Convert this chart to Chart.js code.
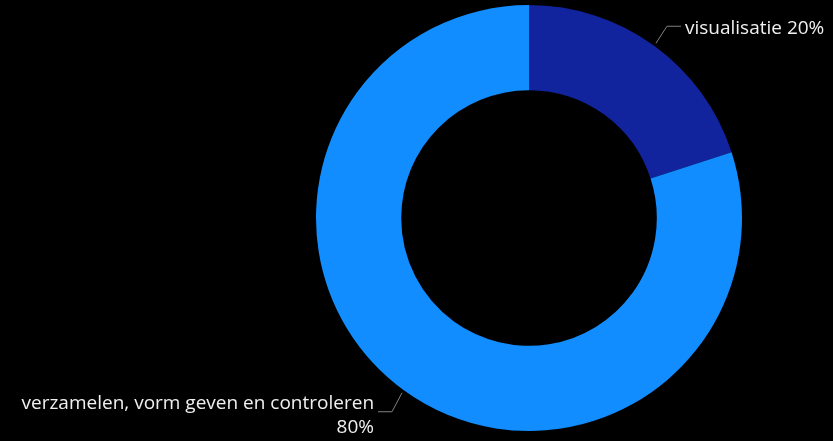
<!DOCTYPE html>
<html>
<head>
<meta charset="utf-8">
<script src="https://cdn.jsdelivr.net/npm/chart.js@4"></script>
<style>
  html, body { margin: 0; padding: 0; background: #000; }
  #wrap { width: 833px; height: 441px; }
</style>
</head>
<body>
<div id="wrap"><canvas id="chart" width="833" height="441"></canvas></div>
<script>
// data
const categories = ['visualisatie', 'verzamelen, vorm geven en controleren'];
const shares = [20, 80];
const colors = ['#12239E', '#118DFF'];

// labels with leader lines, placed from each arc's middle angle
const leaderLabels = {
  id: 'leaderLabels',
  afterDatasetsDraw(chart) {
    const ctx = chart.ctx;
    const meta = chart.getDatasetMeta(0);
    ctx.save();
    ctx.font = '19px "Segoe UI", "Open Sans", sans-serif';
    ctx.textBaseline = 'middle';
    meta.data.forEach((arc, i) => {
      const mid = (arc.startAngle + arc.endAngle) / 2;
      const r = arc.outerRadius + 3;
      const x0 = arc.x + Math.cos(mid) * r;
      const y0 = arc.y + Math.sin(mid) * r;
      const right = Math.cos(mid) >= 0;
      const x1 = x0 + (right ? 11 : -10);
      const y1 = y0 + (Math.sin(mid) < 0 ? -17 : 19);
      const x2 = x1 + (right ? 14 : -14);
      ctx.strokeStyle = '#808080';
      ctx.lineWidth = 1;
      ctx.beginPath();
      ctx.moveTo(x0, y0);
      ctx.lineTo(x1, y1);
      ctx.lineTo(x2, y1);
      ctx.stroke();
      ctx.fillStyle = '#f0f0f0';
      const pct = shares[i] + '%';
      if (right) {
        ctx.textAlign = 'left';
        ctx.fillText(categories[i] + ' ' + pct, x2 + 4, y1 + 2);
      } else {
        ctx.textAlign = 'right';
        ctx.fillText(categories[i], x2 - 4, y1 - 8);
        ctx.fillText(pct, x2 - 4, y1 + 16);
      }
    });
    ctx.restore();
  }
};

new Chart(document.getElementById('chart'), {
  type: 'doughnut',
  data: {
    labels: categories,
    datasets: [{
      data: shares,
      backgroundColor: colors,
      borderWidth: 0
    }]
  },
  options: {
    responsive: false,
    animation: false,
    cutout: '60%',
    layout: { padding: { left: 316, right: 91, top: 5, bottom: 10 } },
    plugins: {
      legend: { display: false },
      tooltip: { enabled: false }
    }
  },
  plugins: [leaderLabels]
});
</script>
</body>
</html>
